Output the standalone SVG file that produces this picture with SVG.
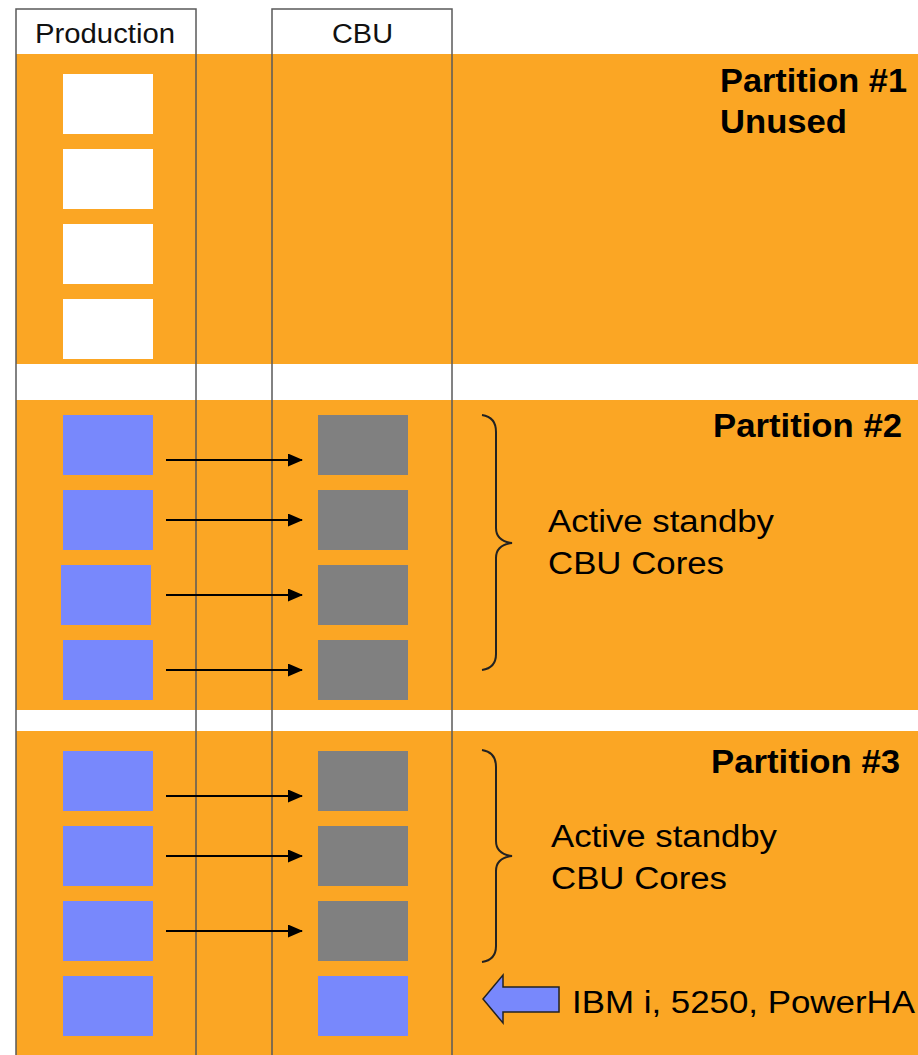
<svg xmlns="http://www.w3.org/2000/svg" width="918" height="1055" viewBox="0 0 918 1055">
<style>
.band{fill:#FBA624}
.col{fill:none;stroke:#5a5a5a;stroke-width:1.5}
.w{fill:#FFFFFF}
.b{fill:#7888FC}
.g{fill:#808080}
.hdr{font-family:"Liberation Sans",Arial,sans-serif;font-size:27px;fill:#111}
.pt{font-family:"Liberation Sans",Arial,sans-serif;font-size:33px;font-weight:bold;fill:#000}
.lbl{font-family:"Liberation Sans",Arial,sans-serif;font-size:31px;fill:#000}
.ar{stroke:#000;stroke-width:2;fill:none}
.br{stroke:#222;stroke-width:2;fill:none}
</style>
<defs>
<marker id="ah" markerWidth="15" markerHeight="13" refX="14" refY="6.5" orient="auto" markerUnits="userSpaceOnUse" viewBox="0 0 15 13">
<path d="M0,0 L15,6.5 L0,13 z" fill="#000"/>
</marker>
</defs>
<rect width="918" height="1055" fill="#FFFFFF"/>
<g id="bands">
<rect class="band" x="16" y="54" width="902" height="310"/>
<rect class="band" x="16" y="400" width="902" height="310"/>
<rect class="band" x="16" y="731" width="902" height="324"/>
</g>
<g id="production-column">
<rect class="col" x="16" y="9" width="180" height="1050"/>
<text class="hdr" x="35" y="43" textLength="140" lengthAdjust="spacingAndGlyphs">Production</text>
</g>
<g id="cbu-column">
<rect class="col" x="272" y="9" width="180" height="1050"/>
<text class="hdr" x="332" y="43" textLength="61" lengthAdjust="spacingAndGlyphs">CBU</text>
</g>
<g id="partition1">
<rect class="w" x="63" y="74" width="90" height="60"/>
<rect class="w" x="63" y="149" width="90" height="60"/>
<rect class="w" x="63" y="224" width="90" height="60"/>
<rect class="w" x="63" y="299" width="90" height="60"/>
<text class="pt" x="720" y="92" textLength="187" lengthAdjust="spacingAndGlyphs">Partition #1</text>
<text class="pt" x="720" y="133" textLength="127" lengthAdjust="spacingAndGlyphs">Unused</text>
</g>
<g id="partition2">
<rect class="b" x="63" y="415" width="90" height="60"/>
<rect class="b" x="63" y="490" width="90" height="60"/>
<rect class="b" x="61" y="565" width="90" height="60"/>
<rect class="b" x="63" y="640" width="90" height="60"/>
<rect class="g" x="318" y="415" width="90" height="60"/>
<rect class="g" x="318" y="490" width="90" height="60"/>
<rect class="g" x="318" y="565" width="90" height="60"/>
<rect class="g" x="318" y="640" width="90" height="60"/>
<text class="pt" x="713" y="437" textLength="189" lengthAdjust="spacingAndGlyphs">Partition #2</text>
<text class="lbl" x="548" y="532" textLength="226" lengthAdjust="spacingAndGlyphs">Active standby</text>
<text class="lbl" x="548" y="574" textLength="176" lengthAdjust="spacingAndGlyphs">CBU Cores</text>
<path class="br" d="M482,415 Q496,417 496,432 L496,528 Q496,541 512,543 Q496,545 496,558 L496,654 Q496,668 482,670"/>
</g>
<g id="partition3">
<rect class="b" x="63" y="751" width="90" height="60"/>
<rect class="b" x="63" y="826" width="90" height="60"/>
<rect class="b" x="63" y="901" width="90" height="60"/>
<rect class="b" x="63" y="976" width="90" height="60"/>
<rect class="g" x="318" y="751" width="90" height="60"/>
<rect class="g" x="318" y="826" width="90" height="60"/>
<rect class="g" x="318" y="901" width="90" height="60"/>
<rect class="b" x="318" y="976" width="90" height="60"/>
<text class="pt" x="711" y="773" textLength="189" lengthAdjust="spacingAndGlyphs">Partition #3</text>
<text class="lbl" x="551" y="847" textLength="226" lengthAdjust="spacingAndGlyphs">Active standby</text>
<text class="lbl" x="551" y="889" textLength="176" lengthAdjust="spacingAndGlyphs">CBU Cores</text>
<path class="br" d="M482,750 Q496,752 496,767 L496,841 Q496,854 512,856 Q496,858 496,871 L496,946 Q496,960 482,962"/>
<path d="M483,999 L503,975 L503,987 L559,987 L559,1012 L503,1012 L503,1023 z" fill="#7888FC" stroke="#222" stroke-width="1.5"/>
<text class="lbl" x="572" y="1013" textLength="343" lengthAdjust="spacingAndGlyphs">IBM i, 5250, PowerHA</text>
</g>
<g id="connectors">
<line class="ar" x1="166" y1="460" x2="302" y2="460" marker-end="url(#ah)"/>
<line class="ar" x1="166" y1="520" x2="302" y2="520" marker-end="url(#ah)"/>
<line class="ar" x1="166" y1="595" x2="302" y2="595" marker-end="url(#ah)"/>
<line class="ar" x1="166" y1="670" x2="302" y2="670" marker-end="url(#ah)"/>
<line class="ar" x1="166" y1="796" x2="302" y2="796" marker-end="url(#ah)"/>
<line class="ar" x1="166" y1="856" x2="302" y2="856" marker-end="url(#ah)"/>
<line class="ar" x1="166" y1="931" x2="302" y2="931" marker-end="url(#ah)"/>
</g>
</svg>
